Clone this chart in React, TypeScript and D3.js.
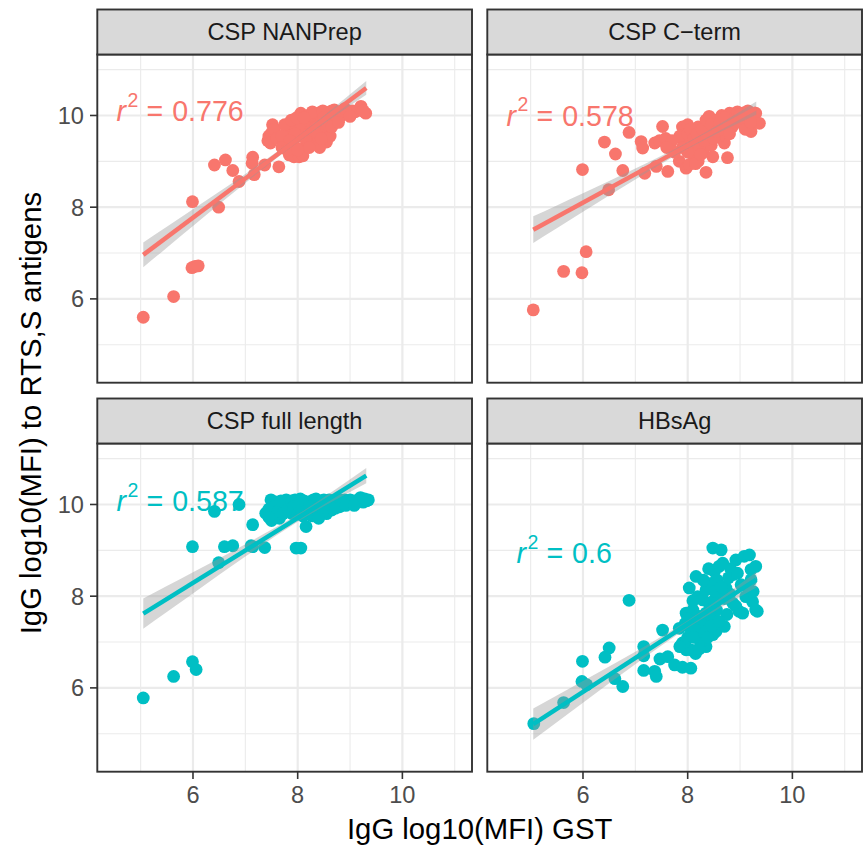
import React from "react";
import * as d3 from "d3";

// ---------- data ----------
const panelTitles = ["CSP NANPrep", "CSP C\u2212term", "CSP full length", "HBsAg"];
const r2Values = ["0.776", "0.578", "0.587", "0.6"];
const xTicks = [6, 8, 10];
const yTicks = [6, 8, 10];
const xMinor = [5, 7, 9, 11];
const yMinor = [5, 7, 9, 11];

const nanprepPoints: [number, number][] = [
  [5.05, 5.6], [5.63, 6.05], [5.98, 6.68], [6.04, 6.71], [6.1, 6.72], [5.99, 8.12], [6.49, 8.0],
  [6.41, 8.92], [6.62, 9.03], [6.76, 8.8], [6.88, 8.56], [7.14, 9.09], [7.13, 8.96], [7.17, 8.71],
  [7.37, 8.92], [7.64, 8.88], [7.52, 9.8], [7.45, 9.55], [7.43, 9.45], [7.5, 9.62], [7.48, 9.4],
  [7.79, 9.69], [7.9, 9.76], [7.84, 9.14], [7.93, 9.1], [8.03, 9.1], [8.1, 9.12], [7.93, 9.35],
  [8.06, 10.05], [8.16, 9.36], [8.35, 9.4], [8.55, 9.42], [8.0, 9.55], [8.1, 9.7], [8.18, 9.85],
  [8.25, 9.6], [8.3, 9.95], [8.35, 9.75], [8.4, 10.05], [8.45, 9.85], [8.5, 9.65], [8.55, 10.0],
  [8.6, 9.9], [8.65, 10.1], [8.7, 10.12], [8.2, 10.0], [8.28, 10.08], [8.38, 9.55], [8.48, 10.1],
  [8.58, 9.78], [8.75, 10.0], [8.85, 10.1], [8.95, 10.05], [9.05, 10.1], [9.1, 10.08], [9.21, 10.2],
  [9.3, 10.05], [9.25, 10.1], [8.15, 9.5], [8.05, 9.82], [7.95, 9.6], [8.42, 9.3], [8.62, 9.55],
  [7.55, 9.7], [7.6, 9.5], [7.7, 9.55], [7.75, 9.8], [7.85, 9.45], [7.88, 9.9], [7.98, 9.95],
  [8.12, 9.95], [8.22, 9.3], [8.32, 9.65], [8.45, 9.5], [8.5, 9.95], [8.65, 9.75], [8.8, 9.95],
  [8.9, 10.15], [9.0, 9.98], [8.78, 9.85], [7.7, 9.3], [7.8, 9.25], [8.0, 9.25],
];

const ctermPoints: [number, number][] = [
  [5.05, 5.76], [5.63, 6.6], [5.98, 6.57], [6.06, 7.03], [5.99, 8.82], [6.49, 8.38], [6.41, 9.42],
  [6.62, 9.16], [6.76, 8.8], [6.88, 9.63], [7.11, 9.43], [7.14, 9.29], [7.18, 8.74], [7.37, 9.4],
  [7.4, 8.89], [7.52, 9.76], [7.46, 9.45], [7.58, 9.5], [7.62, 8.78], [7.84, 9.0], [7.97, 8.85],
  [8.03, 8.93], [7.9, 9.75], [7.95, 9.55], [8.0, 9.8], [8.05, 9.4], [8.1, 9.65], [8.15, 9.3],
  [8.2, 9.75], [8.25, 9.5], [8.3, 9.2], [8.35, 8.76], [8.48, 9.1], [8.7, 9.4], [8.76, 9.08],
  [8.41, 9.98], [8.5, 9.7], [8.55, 9.9], [8.6, 9.55], [8.65, 10.0], [8.75, 9.85], [8.8, 10.05],
  [8.85, 9.75], [8.9, 9.95], [8.95, 10.08], [9.0, 9.85], [9.05, 10.05], [9.1, 9.9], [9.15, 10.1],
  [9.21, 9.65], [9.25, 9.95], [9.3, 10.05], [9.37, 9.83], [8.4, 9.6], [8.45, 9.35], [8.2, 9.0],
  [8.1, 9.15], [8.38, 9.8], [8.0, 9.2], [7.92, 9.42],
  [7.85, 9.55], [7.9, 9.3], [8.0, 9.6], [8.05, 9.7], [8.12, 9.5], [8.18, 9.6], [8.22, 9.35],
  [8.28, 9.7], [8.32, 9.45], [8.35, 9.9], [8.45, 9.8], [8.5, 9.5], [8.55, 9.65], [8.62, 9.85],
  [8.68, 9.7], [8.7, 9.95], [8.8, 9.6], [9.0, 10.02], [9.1, 9.7], [9.2, 9.85], [7.7, 9.45],
  [7.75, 9.2], [8.15, 8.95], [8.25, 9.15], [7.6, 9.3],
];

const fullPoints: [number, number][] = [
  [5.05, 5.78], [5.63, 6.25], [5.99, 6.57], [6.06, 6.4], [5.99, 9.08], [6.49, 8.73], [6.41, 9.85],
  [6.6, 9.08], [6.76, 9.1], [6.88, 10.0], [7.14, 9.56], [7.14, 9.08], [7.11, 9.1], [7.37, 9.06],
  [7.97, 9.05], [8.06, 9.05], [7.49, 10.1], [7.39, 9.81], [7.45, 9.9], [7.55, 9.75], [7.6, 10.05],
  [7.65, 9.7], [7.7, 9.95], [7.78, 10.1], [7.85, 10.0], [7.9, 9.8], [7.95, 10.1], [8.0, 9.9],
  [8.05, 10.12], [8.1, 9.75], [8.16, 9.52], [8.2, 10.05], [8.25, 9.9], [8.3, 10.1], [8.35, 9.85],
  [8.4, 10.08], [8.45, 9.95], [8.5, 10.1], [8.55, 10.0], [8.6, 10.1], [8.65, 9.88], [8.7, 10.05],
  [8.75, 10.1], [8.8, 9.95], [8.85, 10.08], [8.9, 10.1], [8.95, 10.05], [9.0, 10.1], [9.05, 10.08],
  [9.1, 10.05], [9.15, 10.1], [9.2, 10.15], [9.25, 10.05], [9.32, 10.08], [9.35, 10.1], [8.0, 10.05],
  [8.15, 10.0], [8.35, 10.12], [7.75, 9.85], [8.55, 9.8],
  [7.5, 9.65], [7.55, 9.95], [7.62, 9.85], [7.68, 10.08], [7.72, 9.8], [7.82, 9.9], [7.88, 10.08],
  [7.92, 9.95], [8.02, 9.98], [8.08, 9.88], [8.12, 10.08], [8.18, 9.8], [8.22, 9.95], [8.28, 9.75],
  [8.42, 9.95], [8.48, 9.85], [8.62, 10.0], [8.72, 9.92], [8.82, 10.1], [8.92, 9.98], [9.08, 9.98],
  [9.28, 10.12], [7.45, 9.72], [8.4, 9.7],
];

const hbsagPoints: [number, number][] = [
  [5.06, 5.22], [5.63, 5.68], [5.99, 6.58], [5.98, 6.14], [6.07, 6.07], [6.5, 6.87], [6.42, 6.67],
  [6.61, 6.2], [6.76, 6.03], [6.88, 7.91], [7.16, 6.9], [7.16, 6.7], [7.16, 6.38], [7.37, 6.36],
  [7.4, 6.25], [7.52, 7.26], [7.47, 6.63], [7.62, 6.68], [7.75, 6.5], [7.9, 6.45], [8.06, 6.43],
  [7.84, 7.3], [7.9, 6.98], [7.97, 6.83], [8.06, 6.83], [8.16, 7.3], [8.29, 7.27], [8.35, 6.9],
  [8.48, 7.16], [8.54, 7.23], [7.97, 7.63], [8.1, 7.7], [8.22, 7.56], [8.35, 7.63], [8.48, 7.48],
  [8.7, 7.34], [8.03, 8.18], [8.16, 8.43], [8.19, 7.99], [8.29, 7.92], [8.35, 8.14], [8.45, 8.28],
  [8.51, 8.54], [8.6, 8.65], [8.67, 8.72], [8.73, 8.18], [8.48, 9.05], [8.64, 9.01], [8.86, 8.47],
  [9.02, 8.25], [8.86, 7.85], [8.98, 7.67], [8.92, 8.79], [9.08, 8.87], [9.18, 8.9], [9.21, 8.58],
  [9.21, 8.36], [9.11, 7.99], [9.24, 7.88], [9.3, 7.7], [8.92, 7.78], [9.05, 7.63], [9.33, 7.67],
  [8.0, 7.1], [8.1, 7.45], [8.2, 7.15], [8.25, 6.95], [8.4, 7.4], [8.15, 6.75], [7.95, 7.4],
  [8.3, 7.05], [8.55, 7.7], [8.4, 7.85], [8.6, 7.95], [8.75, 7.6], [9.15, 8.2], [8.8, 8.05],
  [7.95, 7.0], [8.05, 7.3], [8.12, 7.1], [8.18, 7.55], [8.22, 7.35], [8.28, 7.5], [8.32, 7.2],
  [8.38, 7.1], [8.42, 7.6], [8.46, 7.35], [8.5, 7.9], [8.52, 8.1], [8.56, 8.35], [8.6, 7.45],
  [8.65, 8.2], [8.7, 7.95], [8.78, 8.4], [8.82, 8.6], [8.3, 8.35], [8.4, 8.6], [8.1, 7.9],
  [8.0, 7.5], [9.25, 8.1], [9.3, 8.65], [8.95, 8.5], [7.85, 6.9], [8.22, 6.85],
];

// fitted regression line (ends) and confidence band half-widths
const fitX = [5.05, 9.31];
const nanprepFitY = [6.96, 10.6];
const ctermFitY = [7.51, 10.16];
const fullFitY = [7.62, 10.63];
const hbsagFitY = [5.21, 8.36];
const bandX = [5.05, 5.5, 6, 7, 8, 8.6, 9.31];
const nanprepBand = [0.27, 0.228, 0.184, 0.1, 0.062, 0.093, 0.15];
const ctermBand = [0.29, 0.249, 0.203, 0.118, 0.07, 0.091, 0.145];
const fullBand = [0.33, 0.283, 0.231, 0.134, 0.08, 0.104, 0.165];
const hbsagBand = [0.34, 0.291, 0.238, 0.137, 0.08, 0.105, 0.17];

// ---------- layout / style ----------
const FONT = "'Liberation Sans', Arial, Helvetica, sans-serif";
const SALMON = "#F8766D";
const TEAL = "#00BFC4";
const DOMAIN: [number, number] = [4.172, 11.33];
const colX = [97.3, 487.3];
const panelW = 374.7;
const stripTop = [9.5, 398.5];
const stripH = 45;
const panelH = 328.2;
const labelPos = [
  { x: 4.54, y: 9.87 },
  { x: 4.54, y: 9.78 },
  { x: 4.54, y: 9.85 },
  { x: 4.73, y: 8.72 },
];

const panels = [
  { title: panelTitles[0], color: SALMON, pts: nanprepPoints, fitY: nanprepFitY, band: nanprepBand, r2: r2Values[0] },
  { title: panelTitles[1], color: SALMON, pts: ctermPoints, fitY: ctermFitY, band: ctermBand, r2: r2Values[1] },
  { title: panelTitles[2], color: TEAL, pts: fullPoints, fitY: fullFitY, band: fullBand, r2: r2Values[2] },
  { title: panelTitles[3], color: TEAL, pts: hbsagPoints, fitY: hbsagFitY, band: hbsagBand, r2: r2Values[3] },
];

function Panel({ idx }: { idx: number }) {
  const p = panels[idx];
  const col = idx % 2;
  const row = Math.floor(idx / 2);
  const x0 = colX[col];
  const sTop = stripTop[row];
  const pTop = sTop + stripH;
  const x = d3.scaleLinear().domain(DOMAIN).range([x0, x0 + panelW]);
  const y = d3.scaleLinear().domain(DOMAIN).range([pTop + panelH, pTop]);
  const fit = d3.scaleLinear().domain(fitX).range(p.fitY);
  const bandData = bandX.map((bx, i) => ({ bx, lo: fit(bx) - p.band[i], hi: fit(bx) + p.band[i] }));
  const area = d3
    .area<{ bx: number; lo: number; hi: number }>()
    .x((d) => x(d.bx))
    .y0((d) => y(d.lo))
    .y1((d) => y(d.hi))
    .curve(d3.curveMonotoneX);
  const line = d3.line<number>().x((d) => x(d)).y((d) => y(fit(d)));
  const clipId = `clip${idx}`;
  const lp = labelPos[idx];
  return (
    <g>
      <defs>
        <clipPath id={clipId}>
          <rect x={x0} y={pTop} width={panelW} height={panelH} />
        </clipPath>
      </defs>
      <rect x={x0} y={pTop} width={panelW} height={panelH} fill="#FFFFFF" />
      {xMinor.map((v) => (
        <line key={"xm" + v} x1={x(v)} x2={x(v)} y1={pTop} y2={pTop + panelH} stroke="#EBEBEB" strokeWidth={1.1} />
      ))}
      {yMinor.map((v) => (
        <line key={"ym" + v} x1={x0} x2={x0 + panelW} y1={y(v)} y2={y(v)} stroke="#EBEBEB" strokeWidth={1.1} />
      ))}
      {xTicks.map((v) => (
        <line key={"xM" + v} x1={x(v)} x2={x(v)} y1={pTop} y2={pTop + panelH} stroke="#EBEBEB" strokeWidth={2.2} />
      ))}
      {yTicks.map((v) => (
        <line key={"yM" + v} x1={x0} x2={x0 + panelW} y1={y(v)} y2={y(v)} stroke="#EBEBEB" strokeWidth={2.2} />
      ))}
      <g clipPath={`url(#${clipId})`}>
        {p.pts.map((d, i) => (
          <circle key={i} cx={x(d[0])} cy={y(d[1])} r={6.4} fill={p.color} />
        ))}
        <path d={area(bandData) || ""} fill="#999999" fillOpacity={0.4} />
        <path d={line(fitX) || ""} stroke={p.color} strokeWidth={4.5} fill="none" />
      </g>
      <text x={x(lp.x)} y={y(lp.y)} fill={p.color} fontFamily={FONT} fontSize={28.6}>
        <tspan fontStyle="italic">r</tspan>
        <tspan fontSize={19.5} dy={-14.5} dx={1.5}>2</tspan>
        <tspan dy={14.5} dx={8}>=</tspan>
        <tspan dx={9}>{p.r2}</tspan>
      </text>
      <rect x={x0} y={pTop} width={panelW} height={panelH} fill="none" stroke="#333333" strokeWidth={1.9} />
      <rect x={x0} y={sTop} width={panelW} height={stripH} fill="#D9D9D9" stroke="#333333" strokeWidth={1.9} />
      <text x={x0 + panelW / 2} y={sTop + stripH / 2} dy="0.36em" textAnchor="middle" fontFamily={FONT} fontSize={23.6} fill="#1A1A1A">
        {p.title}
      </text>
      {col === 0 &&
        yTicks.map((v) => (
          <g key={"yt" + v}>
            <line x1={x0 - 7.3} x2={x0} y1={y(v)} y2={y(v)} stroke="#333333" strokeWidth={1.6} />
            <text x={x0 - 13.3} y={y(v)} dy="0.36em" textAnchor="end" fontFamily={FONT} fontSize={23.6} fill="#4D4D4D">
              {v}
            </text>
          </g>
        ))}
      {row === 1 &&
        xTicks.map((v) => (
          <g key={"xt" + v}>
            <line x1={x(v)} x2={x(v)} y1={pTop + panelH} y2={pTop + panelH + 7.3} stroke="#333333" strokeWidth={1.6} />
            <text x={x(v)} y={pTop + panelH + 31} textAnchor="middle" fontFamily={FONT} fontSize={23.6} fill="#4D4D4D">
              {v}
            </text>
          </g>
        ))}
    </g>
  );
}

export default function App() {
  const midX = (colX[0] + colX[1] + panelW) / 2;
  const midY = (stripTop[0] + stripH + stripTop[1] + stripH + panelH) / 2;
  return (
    <svg width={864} height={848} style={{ position: "absolute", left: 0, top: 0, display: "block", background: "#FFFFFF" }}>
      <rect x={0} y={0} width={864} height={848} fill="#FFFFFF" />
      {panels.map((_, i) => (
        <Panel key={i} idx={i} />
      ))}
      <text x={midX} y={839} textAnchor="middle" fontFamily={FONT} fontSize={29.3} fill="#000000">
        IgG log10(MFI) GST
      </text>
      <text
        transform={`translate(41,${midY}) rotate(-90)`}
        textAnchor="middle"
        fontFamily={FONT}
        fontSize={29.3}
        fill="#000000"
      >
        IgG log10(MFI) to RTS,S antigens
      </text>
    </svg>
  );
}
